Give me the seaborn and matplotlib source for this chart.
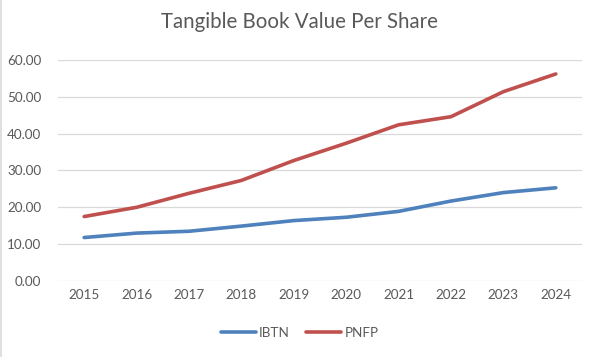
import matplotlib
matplotlib.use("Agg")
import matplotlib.pyplot as plt
import seaborn as sns
import pandas as pd
from matplotlib.lines import Line2D

years = ["2015", "2016", "2017", "2018", "2019", "2020", "2021", "2022", "2023", "2024"]
ibtn = [11.8, 13.0, 13.5, 14.9, 16.4, 17.3, 18.9, 21.7, 24.0, 25.3]
pnfp = [17.5, 20.0, 23.8, 27.3, 32.7, 37.4, 42.4, 44.6, 51.4, 56.2]
series_names = ["IBTN", "PNFP"]
yticks = [0, 10, 20, 30, 40, 50, 60]
title = "Tangible Book Value Per Share"

df = pd.DataFrame({
    "Year": years * 2,
    "Value": ibtn + pnfp,
    "Series": [series_names[0]] * len(years) + [series_names[1]] * len(years),
})

sns.set_style("white")
plt.rcParams["font.family"] = ["Lato", "DejaVu Sans"]

fig = plt.figure(figsize=(5.99, 3.57), dpi=100)
ax = fig.add_axes([0.0968, 0.2129, 0.8748, 0.6191])

palette = {"IBTN": "#4F81BD", "PNFP": "#C0504D"}
sns.lineplot(data=df, x="Year", y="Value", hue="Series", palette=palette,
             linewidth=2.6, ax=ax, sort=False, legend=False,
             solid_capstyle="round", solid_joinstyle="round")

ax.set_xlim(-0.5, len(years) - 0.5)
ax.set_ylim(0, 60)
ax.set_yticks(yticks)
ax.set_yticklabels([f"{v:.2f}" for v in yticks])
ax.grid(axis="y", color="#D9D9D9", linewidth=0.9)
ax.grid(axis="x", visible=False)
ax.set_axisbelow(True)
for s in ax.spines.values():
    s.set_visible(False)
ax.tick_params(axis="both", length=0, labelsize=9.7, colors="#595959", pad=6)
ax.tick_params(axis="y", pad=12)
ax.set_xlabel("")
ax.set_ylabel("")

fig.text(0.5, 0.938, title, ha="center", va="center", fontsize=14.8, color="#595959")

handles = [Line2D([0], [0], color=palette[n], linewidth=2.6, solid_capstyle="round") for n in series_names]
fig.legend(handles, series_names, loc="center", bbox_to_anchor=(0.5, 0.067), ncol=2,
           frameon=False, fontsize=9.7, labelcolor="#595959", handlelength=2.6,
           handletextpad=0.25, columnspacing=1.2)

fig.add_artist(Line2D([0.001, 0.001], [0, 1], transform=fig.transFigure, color="#D9D9D9", linewidth=1.2))

fig.savefig("out.png", dpi=100)
